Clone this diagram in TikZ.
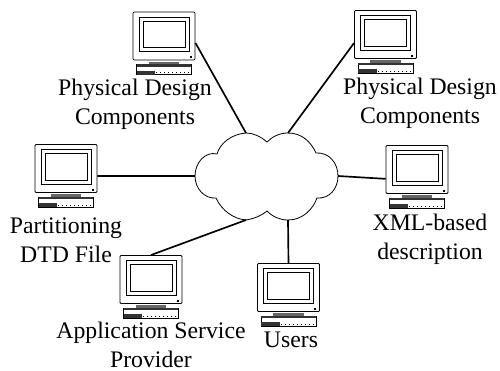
\documentclass[tikz,border=0pt]{standalone}
\usepackage{fontspec}
\setmainfont{Liberation Serif}
\usepackage{tikz}
\usetikzlibrary{positioning}
\tikzset{
    lbl/.style={align=center,inner sep=0pt,font=\fontsize{17.8}{21.75}\selectfont},
    monitor/.style={draw,line width=0.7pt,rounded corners=0.8pt,minimum width=46.5,minimum height=36,inner sep=0pt},
    frame/.style={draw,line width=0.7pt,inner sep=0pt},
    keyboard/.style={draw,line width=0.5pt,minimum width=41,minimum height=7.5,inner sep=0pt},
    neck/.style={fill=black!60,minimum width=23,minimum height=2,inner sep=0pt},
    link/.style={line width=1.25pt}
}
% one computer: #1 name, #2 centre of monitor
\newcommand{\computer}[2]{
    \node[monitor] (#1) at #2 {};
    \node[frame,minimum width=37.5,minimum height=26] (#1f) at ([yshift=1.1pt]#1.center) {};
    \node[frame,minimum width=31.5,minimum height=20] (#1s) at (#1f.center) {};
    \node[fill=black,minimum size=1.5,inner sep=0pt,above left=1.5pt and 2.5pt of #1.south east] (#1d) {};
    \node[neck,below=0.6pt of #1] (#1n) {};
    \node[keyboard,below=2.8pt of #1] (#1k) {};
    \node[fill=black!80,minimum width=41,minimum height=1.6,inner sep=0pt,anchor=north] (#1t) at (#1k.north) {};
    \node[fill=black!80,minimum width=14,minimum height=3,inner sep=0pt,anchor=south west] (#1l) at (#1k.south west) {};
    \draw[line width=0.8pt,dash pattern=on 0.8pt off 2.2pt] ([xshift=15pt,yshift=1.5pt]#1k.south west) -- ([xshift=-1pt,yshift=1.5pt]#1k.south east);
}
\begin{document}
\begin{tikzpicture}[x=0.75pt,y=-0.75pt]
\useasboundingbox (0,0) rectangle (500,371);
\fill[white] (0,0) rectangle (500,371);

\computer{pca}{(164,36)}
\computer{pcb}{(385.5,34.5)}
\computer{pcc}{(66,168.5)}
\computer{pcd}{(417,169.5)}
\computer{pce}{(151,279.5)}
\computer{pcf}{(288.5,287.5)}

\coordinate (ca) at (246,133);
\coordinate (cb) at (288,133);
\coordinate (cc) at (195,176);
\coordinate (cd) at (338,176);
\coordinate (ce) at (246,220);
\coordinate (cf) at (288,220);

% cloud
\draw[line width=0.6pt,fill=white] (267,142) .. controls (260,136) and (253,133) .. (ca)
    .. controls (232,134) and (220,143) .. (217,154)
    .. controls (205,151) and (195,163) .. (cc)
    .. controls (195,188) and (204,199) .. (216,198)
    .. controls (222,211) and (234,219) .. (ce)
    .. controls (253,219) and (261,216) .. (267,211)
    .. controls (273,217) and (280,220) .. (cf)
    .. controls (303,220) and (313,209) .. (317,198)
    .. controls (330,199) and (338,188) .. (cd)
    .. controls (338,163) and (329,152) .. (316,153)
    .. controls (311,142) and (302,133) .. (cb)
    .. controls (279,133) and (272,137) .. (267,142);

\draw[link] ([yshift=-5.2pt]pca.east) -- (ca);
\draw[link] ([yshift=-6.4pt]pcb.west) -- (cb);
\draw[link] ([yshift=-5.6pt]pcc.east) -- (cc);
\draw[link] ([yshift=-7pt]pcd.west) -- (cd);
\draw[link] (pce.north) -- (ce);
\draw[link] (pcf.north) -- (cf);

\node[lbl] (la) at (135,104) {Physical Design\\Components};
\node[lbl] (lb) at (420,103) {Physical Design\\Components};
\node[lbl] (lc) at (66,240) {Partitioning\\DTD File};
\node[lbl] (ld) at (430,239) {XML-based\\description};
\node[lbl] (le) at (151,345) {Application Service\\Provider};
\node[lbl] (lf) at (291,340) {Users};
\end{tikzpicture}
\end{document}
